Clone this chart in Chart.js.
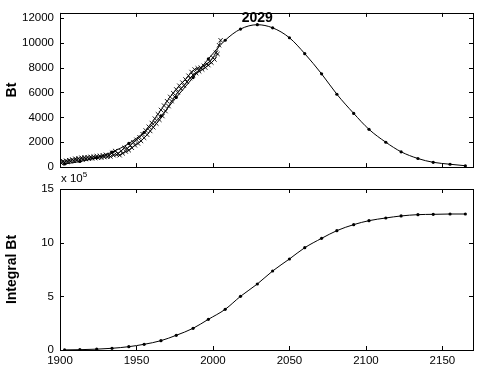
<!DOCTYPE html>
<html>
<head>
<meta charset="utf-8">
<script src="https://cdn.jsdelivr.net/npm/chart.js@4.4.0/dist/chart.umd.min.js"></script>
<style>
body { margin: 0; background: #fff; }
#wrap { position: relative; width: 480px; height: 374px; }
canvas { position: absolute; left: 0; }
#topChart { top: 0; }
#botChart { top: 165px; }
</style>
</head>
<body>
<div id="wrap">
  <canvas id="topChart" width="480" height="180" style="width:480px;height:180px"></canvas>
  <canvas id="botChart" width="480" height="209" style="width:480px;height:209px"></canvas>
</div>
<script>
// Axes
const xTickYears = [1900, 1950, 2000, 2050, 2100, 2150];
const btTicks = [0, 2000, 4000, 6000, 8000, 10000, 12000];
const integralTicks = [0, 5, 10, 15];

// Observed Bt, two overlapping records (x markers)
const obsYearsA = [1900, 1902, 1904, 1906, 1908, 1910, 1912, 1914, 1916, 1918, 1920, 1922, 1924, 1926, 1928, 1930, 1932, 1934, 1936, 1938, 1940, 1942, 1944, 1946, 1948, 1950, 1952, 1954, 1956, 1958, 1960, 1962, 1964, 1966, 1968, 1970, 1972, 1974, 1976, 1978, 1980, 1982, 1984, 1986, 1988, 1990, 1992, 1994, 1996, 1998, 2000, 2002, 2004, 2005];
const obsBtA = [400, 480, 520, 560, 620, 680, 700, 760, 780, 800, 830, 850, 880, 900, 950, 1000, 950, 1150, 1300, 1100, 1300, 1550, 1500, 1750, 2000, 2200, 2400, 2650, 2950, 3250, 3550, 3900, 4250, 4600, 4950, 5300, 5650, 5950, 6250, 6550, 6800, 7050, 7350, 7650, 7850, 7950, 8000, 8150, 8300, 8500, 8800, 9200, 9800, 10200];
const obsYearsB = [1901, 1903, 1905, 1907, 1909, 1911, 1913, 1915, 1917, 1919, 1921, 1923, 1925, 1927, 1929, 1931, 1933, 1935, 1937, 1939, 1941, 1943, 1945, 1947, 1949, 1951, 1953, 1955, 1957, 1959, 1961, 1963, 1965, 1967, 1969, 1971, 1973, 1975, 1977, 1979, 1981, 1983, 1985, 1987, 1989, 1991, 1993, 1995, 1997, 1999, 2001, 2003];
const obsBtB = [300, 380, 420, 460, 500, 540, 580, 600, 640, 660, 700, 720, 740, 760, 800, 820, 850, 950, 1000, 950, 1100, 1250, 1350, 1550, 1750, 1900, 2100, 2350, 2600, 2900, 3200, 3500, 3800, 4100, 4500, 4900, 5300, 5650, 6000, 6300, 6550, 6850, 7150, 7400, 7550, 7700, 7850, 8000, 8200, 8400, 8650, 9100];

// Fitted curve and its integral (x 10^5)
const fitYears = [1903, 1913, 1924, 1934, 1945, 1955, 1966, 1976, 1987, 1997, 2008, 2018, 2029, 2039, 2050, 2060, 2071, 2081, 2092, 2102, 2113, 2123, 2134, 2144, 2155, 2165];
const fitBt = [250, 450, 750, 1200, 1900, 2800, 4100, 5600, 7200, 8700, 10200, 11100, 11450, 11200, 10400, 9125, 7500, 5860, 4320, 3035, 2000, 1230, 690, 385, 230, 110];
const integralBt = [0.01, 0.03, 0.08, 0.16, 0.31, 0.53, 0.87, 1.37, 2.02, 2.86, 3.79, 5.0, 6.15, 7.36, 8.48, 9.53, 10.4, 11.12, 11.68, 12.05, 12.3, 12.49, 12.61, 12.64, 12.67, 12.67];
const peakYear = 2029;

const FONT = 'Liberation Sans, Arial, sans-serif';

function pts(xs, ys) {
    return xs.map((x, i) => ({ x: x, y: ys[i] }));
}

// Cadre type MATLAB avec graduations vers l'intérieur
const framePlugin = {
    id: 'frame',
    afterDraw(chart) {
        const { ctx, chartArea: a, scales } = chart;
        ctx.save();
        ctx.strokeStyle = '#000';
        ctx.lineWidth = 1;
        ctx.strokeRect(Math.round(a.left) + 0.5, Math.round(a.top) + 0.5, Math.round(a.right - a.left), Math.round(a.bottom - a.top));
        ctx.beginPath();
        xTickYears.forEach(v => {
            const px = Math.round(scales.x.getPixelForValue(v)) + 0.5;
            ctx.moveTo(px, a.top); ctx.lineTo(px, a.top + 4);
            ctx.moveTo(px, a.bottom); ctx.lineTo(px, a.bottom - 4);
        });
        scales.y.ticks.forEach(t => {
            const py = Math.round(scales.y.getPixelForValue(t.value)) + 0.5;
            ctx.moveTo(a.left, py); ctx.lineTo(a.left + 4, py);
            ctx.moveTo(a.right, py); ctx.lineTo(a.right - 4, py);
        });
        ctx.stroke();

        const opts = chart.options.plugins.frame || {};
        ctx.fillStyle = '#000';
        if (opts.peakLabel) {
            const px = scales.x.getPixelForValue(peakYear);
            const py = scales.y.getPixelForValue(fitBt[fitYears.indexOf(peakYear)]);
            ctx.font = 'bold 14px ' + FONT;
            ctx.textAlign = 'center';
            ctx.textBaseline = 'alphabetic';
            ctx.fillText(String(peakYear), px, py - 3);
        }
        if (opts.exponent) {
            ctx.font = '11.5px ' + FONT;
            ctx.textAlign = 'left';
            ctx.textBaseline = 'alphabetic';
            const base = 'x 10';
            ctx.fillText(base, a.left + 1, a.top - 7);
            const w = ctx.measureText(base).width;
            ctx.font = '8px ' + FONT;
            ctx.fillText('5', a.left + 1 + w, a.top - 12);
        }
        ctx.restore();
    }
};

const plain = v => String(v);

function yAxis(ticks, max, title) {
    return {
        type: 'linear',
        min: 0,
        max: max,
        afterBuildTicks: s => { s.ticks = ticks.map(v => ({ value: v })); },
        afterFit: s => { s.width = 60; },
        grid: { display: false, drawTicks: false },
        border: { display: false },
        ticks: { color: '#000', font: { family: FONT, size: 11.5 }, padding: 6, callback: plain },
        title: { display: true, text: title, color: '#000', font: { family: FONT, size: 14, weight: 'bold' }, padding: { top: 4, bottom: 0 } }
    };
}

const common = {
    responsive: false,
    animation: false,
    events: [],
    plugins: { legend: { display: false }, tooltip: { enabled: false } }
};

const topChart = new Chart(document.getElementById('topChart'), {
    type: 'scatter',
    data: {
        datasets: [
            {
                data: pts(fitYears, fitBt),
                showLine: true,
                borderColor: '#000',
                borderWidth: 1,
                cubicInterpolationMode: 'monotone',
                pointRadius: 1.6,
                pointBackgroundColor: '#000',
                pointBorderWidth: 0
            },
            {
                data: pts(obsYearsA, obsBtA),
                showLine: true,
                borderColor: '#000',
                borderWidth: 0.7,
                pointStyle: 'crossRot',
                pointRadius: 3,
                pointBorderColor: '#000',
                pointBorderWidth: 0.9
            },
            {
                data: pts(obsYearsB, obsBtB),
                showLine: true,
                borderColor: '#000',
                borderWidth: 0.7,
                pointStyle: 'crossRot',
                pointRadius: 3,
                pointBorderColor: '#000',
                pointBorderWidth: 0.9
            }
        ]
    },
    options: {
        ...common,
        layout: { padding: { left: 0, right: 7, top: 12, bottom: 7 } },
        scales: {
            x: { type: 'linear', min: 1900, max: 2170, display: false },
            y: yAxis(btTicks, 12400, 'Bt')
        },
        plugins: { ...common.plugins, frame: { peakLabel: true } }
    },
    plugins: [framePlugin]
});

const botChart = new Chart(document.getElementById('botChart'), {
    type: 'scatter',
    data: {
        datasets: [{
            data: pts(fitYears, integralBt),
            showLine: true,
            borderColor: '#000',
            borderWidth: 1,
            cubicInterpolationMode: 'monotone',
            pointRadius: 1.6,
            pointBackgroundColor: '#000',
            pointBorderWidth: 0
        }]
    },
    options: {
        ...common,
        layout: { padding: { left: 0, right: 7, top: 24, bottom: 0 } },
        scales: {
            x: {
                type: 'linear',
                min: 1900,
                max: 2170,
                afterBuildTicks: s => { s.ticks = xTickYears.map(v => ({ value: v })); },
                afterFit: s => { s.height = 24; },
                grid: { display: false, drawTicks: false },
                border: { display: false },
                ticks: { color: '#000', font: { family: FONT, size: 11.5 }, padding: 4, maxRotation: 0, callback: plain }
            },
            y: yAxis(integralTicks, 15, 'Integral Bt')
        },
        plugins: { ...common.plugins, frame: { exponent: true } }
    },
    plugins: [framePlugin]
});
</script>
</body>
</html>
